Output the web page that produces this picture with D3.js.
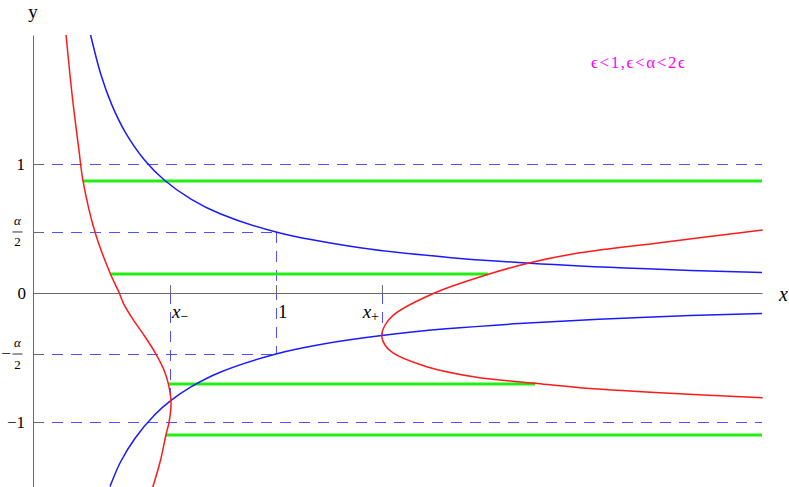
<!DOCTYPE html>
<html><head><meta charset="utf-8">
<script src="https://cdn.jsdelivr.net/npm/d3@7"></script>
<style>body{margin:0;background:#fff}svg{display:block}</style>
</head><body><svg id="c" width="789" height="487"></svg>
<script>
// ---- data ----
const halfAlpha = 0.473;
const xMinus = 0.564, xPlus = 1.436;
const yTickValues = [1, halfAlpha, 0, -halfAlpha, -1];
const xTickValues = [xMinus, 1, xPlus];
const xTickLabels = [["x", "−"], ["1", ""], ["x", "+"]];
const annotation = "ϵ<1,ϵ<α<2ϵ";

const blueUpper = [[0.237,2.0],[0.28,1.69],[0.324,1.46],[0.38,1.245],[0.458,1.033],[0.54,0.876],[0.65,0.728],[0.77,0.614],[1.0,0.473],[1.346,0.351],[1.7,0.278],[2.045,0.231],[2.5,0.189],[3.0,0.158]];
const blueLower = [[0.317,-1.50],[0.36,-1.31],[0.42,-1.126],[0.5,-0.946],[0.568,-0.833],[0.65,-0.728],[0.77,-0.614],[1.0,-0.473],[1.2,-0.394],[1.435,-0.33],[1.7,-0.278],[2.0,-0.237],[2.5,-0.189],[3.0,-0.158]];
const redLeft = [[0.136,2.0],[0.162,1.519],[0.189,1.109],[0.206,0.868],[0.255,0.473],[0.317,0.155],[0.355,0.0],[0.372,-0.080],[0.413,-0.209],[0.461,-0.339],[0.506,-0.473],[0.539,-0.597],[0.557,-0.705],[0.568,-0.853],[0.560,-1.0],[0.547,-1.101],[0.525,-1.295],[0.493,-1.504]];
const redRight = [[3.003,0.488],[2.580,0.390],[2.251,0.312],[2.045,0.235],[1.874,0.145],[1.650,-0.002],[1.483,-0.171],[1.449,-0.248],[1.435,-0.333],[1.449,-0.405],[1.483,-0.467],[1.620,-0.571],[1.826,-0.653],[2.066,-0.700],[2.251,-0.734],[2.580,-0.773],[3.003,-0.812]];
const greenY = [0.868, 0.147, -0.705, -1.10];
const greenX0 = [0.206, 0.317, 0.556, 0.547];
const greenX1 = [3.0, 1.872, 2.066, 3.0];
const dashH = [[1,0,3],[halfAlpha,0,1],[-halfAlpha,0,1],[-1,0,3]];      // y, x0, x1
const dashV = [[1,halfAlpha,-halfAlpha],[xMinus,0,-0.839],[xPlus,0,-0.333]]; // x, y0, y1

// ---- drawing ----
const svg = d3.select("#c");
const x = d3.scaleLinear().domain([0, 3]).range([33, 762]);
const y = d3.scaleLinear().domain([-1.5, 2]).range([486.5, 35]);
const serif = "Liberation Serif, DejaVu Serif, serif";
const dashCol = "#5050ff";

// dashed guides
svg.append("g").selectAll("line").data(dashH).join("line")
  .attr("x1", d => x(d[1])).attr("x2", d => x(d[2]))
  .attr("y1", d => Math.round(y(d[0])) + 0.5).attr("y2", d => Math.round(y(d[0])) + 0.5)
  .attr("stroke", dashCol).attr("stroke-width", 1).attr("stroke-dasharray", "11,8");
svg.append("g").selectAll("line").data(dashV).join("line")
  .attr("x1", d => Math.round(x(d[0])) + 0.5).attr("x2", d => Math.round(x(d[0])) + 0.5)
  .attr("y1", d => y(d[1])).attr("y2", d => y(d[2]))
  .attr("stroke", dashCol).attr("stroke-width", 1).attr("stroke-dasharray", "11,8");

// axes
const axCol = "#6a6a6a";
const gy = svg.append("g").attr("transform", `translate(${x(0)},0)`)
  .call(d3.axisRight(y).tickValues(yTickValues).tickSize(8).tickSizeOuter(0).tickFormat(""));
const gx = svg.append("g").attr("transform", `translate(0,${y(0)})`)
  .call(d3.axisTop(x).tickValues(xTickValues).tickSize(8).tickSizeOuter(0).tickFormat(""));
[gy, gx].forEach(g => { g.selectAll("path,line").attr("stroke", axCol).attr("stroke-width", 1); });

// green lines
svg.append("g").selectAll("line").data(greenY).join("line")
  .attr("x1", (d, i) => x(greenX0[i])).attr("x2", (d, i) => x(greenX1[i]))
  .attr("y1", d => y(d)).attr("y2", d => y(d))
  .attr("stroke", "#22ee11").attr("stroke-width", 3);

// curves
const line = d3.line().x(d => x(d[0])).y(d => y(d[1])).curve(d3.curveCatmullRom.alpha(0.5));
[[blueUpper, "#1a1aff"], [blueLower, "#1a1aff"], [redLeft, "#ff1a1a"], [redRight, "#ff1a1a"]].forEach(([data, col]) => {
  svg.append("path").datum(data).attr("d", line).attr("fill", "none")
    .attr("stroke", col).attr("stroke-width", 1.5);
});

// y tick labels
const lab = svg.append("g").style("font-family", serif).attr("fill", "#000");
lab.append("text").attr("x", 25).attr("y", y(1) + 6).attr("text-anchor", "end").attr("font-size", 17).text("1");
lab.append("text").attr("x", 26).attr("y", y(0) + 6).attr("text-anchor", "end").attr("font-size", 17).text("0");
lab.append("text").attr("x", 25).attr("y", y(-1) + 6).attr("text-anchor", "end").attr("font-size", 17).text("−1");
[halfAlpha, -halfAlpha].forEach(v => {
  const cy = y(v);
  lab.append("text").attr("x", 17.5).attr("y", cy - 7).attr("text-anchor", "middle")
    .attr("font-size", 13).attr("font-style", "italic").text("α");
  lab.append("line").attr("x1", 12.5).attr("x2", 22.5).attr("y1", cy).attr("y2", cy)
    .attr("stroke", "#000").attr("stroke-width", 0.8);
  lab.append("text").attr("x", 17.5).attr("y", cy + 14.5).attr("text-anchor", "middle")
    .attr("font-size", 13).text("2");
  if (v < 0) lab.append("text").attr("x", 6).attr("y", cy + 5).attr("text-anchor", "middle")
    .attr("font-size", 17).text("−");
});

// x tick labels
const xl = [[172, "start"], [278, "start"], [379, "end"]];
xTickLabels.forEach((t, i) => {
  const tx = lab.append("text").attr("x", xl[i][0]).attr("y", y(0) + 25)
    .attr("text-anchor", xl[i][1]).attr("font-size", 19);
  tx.append("tspan").attr("font-style", t[1] ? "italic" : "normal").text(t[0]);
  if (t[1]) tx.append("tspan").attr("font-size", 14).attr("dy", 3).text(t[1]);
});

// axis names
lab.append("text").attr("x", 779).attr("y", y(0) + 8).attr("font-size", 20).attr("font-style", "italic").text("x");
lab.append("text").attr("x", 33).attr("y", 18).attr("text-anchor", "middle").attr("font-size", 19).text("y");

// annotation
svg.append("text").attr("x", 591).attr("y", 68).style("font-family", serif)
  .attr("font-size", 17).attr("letter-spacing", 1.6).attr("fill", "#ff00ff").text(annotation);
</script></body></html>
